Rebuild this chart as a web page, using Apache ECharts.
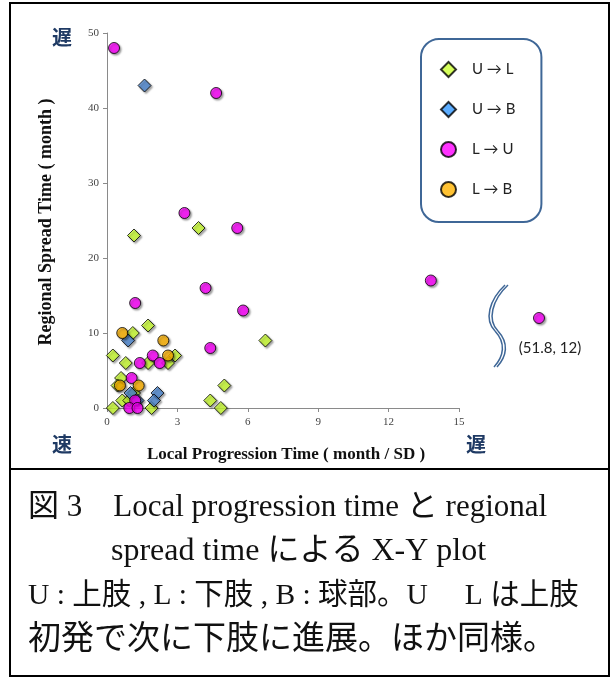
<!DOCTYPE html>
<html><head><meta charset="utf-8">
<script src="https://cdn.jsdelivr.net/npm/echarts@6/dist/echarts.min.js"></script>
<style>html,body{margin:0;padding:0;background:#fff}#c{width:612px;height:678px}</style>
</head><body><div id="c"></div>
<script>
// ---- data ----
const xTicks = [0, 3, 6, 9, 12, 15];
const yTicks = [0, 10, 20, 30, 40, 50];
const legendNames = ['U → L', 'U → B', 'L → U', 'L → B'];
const ulPoints = [[1.15,23],[3.9,24],[1.75,11],[1.1,10],[6.75,9],[0.25,7],[2.9,7],[0.8,6],[1.75,6],[2.6,6],
  [0.6,4],[0.45,3],[5.0,3],[1.15,2],[0.65,1],[0.95,1],[4.4,1],[0.25,0],[1.9,0],[4.85,0]];
const ubPoints = [[1.6,43],[0.9,9],[1.0,2],[2.15,2],[2.0,1],[1.3,1]];
const luPoints = [[0.3,48],[4.65,42],[3.3,26],[5.55,24],[13.8,17],[4.2,16],[1.2,14],[5.8,13],[4.4,8],
  [1.95,7],[1.4,6],[2.25,6],[1.05,4],[1.2,1],[0.95,0],[1.3,0]];
const luOutlier = [[51.8,12]];
const lbPoints = [[0.65,10],[2.4,9],[2.6,7],[0.55,3],[1.35,3]];
const outlierLabel = '(51.8, 12)';
const xTitle = 'Local Progression Time ( month / SD )';
const yTitle = 'Regional Spread Time ( month )';
const captionLines = ['図 3　Local progression time と regional', 'spread time による X-Y plot',
  'U : 上肢 , L : 下肢 , B : 球部。U　 L は上肢', '初発で次に下肢に進展。ほか同様。'];

// ---- chart ----
const chart = echarts.init(document.getElementById('c'), null, {renderer: 'canvas'});
const shadow = {shadowBlur: 2, shadowOffsetX: 1.5, shadowOffsetY: 1.5, shadowColor: 'rgba(0,0,0,0.45)'};
const lblFont = {fontFamily: '"Liberation Serif", serif', fontSize: 11, color: '#444'};
const axisCommon = {
  axisLine: {show: true, lineStyle: {color: '#8a8a8a', width: 1}},
  axisTick: {show: true, inside: false, length: 4, lineStyle: {color: '#8a8a8a'}},
  splitLine: {show: false}
};
function mk(name, data, symbol, size, color, xi) {
  return {type: 'scatter', name, data, symbol, symbolSize: size, xAxisIndex: xi, yAxisIndex: xi,
    clip: false, itemStyle: Object.assign({color, borderColor: '#000', borderWidth: 1}, shadow)};
}
const breakStyle = {fill: null, stroke: '#3f6797', lineWidth: 1.5};
function bz(dx, a) {
  return {type: 'bezierCurve', shape: {x1: a[0] + dx, y1: a[1], cpx1: a[2] + dx, cpy1: a[3], cpx2: a[4] + dx, cpy2: a[5], x2: a[6] + dx, y2: a[7]}, style: breakStyle};
}
const seg1 = [505, 285, 489, 300, 484, 320, 495, 331];
const seg2 = [495, 331, 506, 343, 504, 356, 494, 367];
function capFont(px) { return px + 'px "Liberation Serif", "Noto Sans CJK JP"'; }
const kanjiStyle = {font: 'bold 20px "Noto Sans CJK JP"', fill: '#1f3a64', textAlign: 'center', textVerticalAlign: 'middle'};
chart.setOption({
  animation: false,
  grid: [
    {left: 107, top: 33, width: 352, height: 375},
    {left: 499, top: 33, width: 80, height: 375}
  ],
  xAxis: [
    Object.assign({type: 'value', gridIndex: 0, min: xTicks[0], max: xTicks[xTicks.length-1], interval: 3,
      axisLabel: Object.assign({margin: 9}, lblFont)}, axisCommon),
    {type: 'value', gridIndex: 1, min: 47.8, max: 55.8, show: false}
  ],
  yAxis: [
    Object.assign({type: 'value', gridIndex: 0, min: yTicks[0], max: yTicks[yTicks.length-1], interval: 10,
      axisLabel: Object.assign({margin: 8}, lblFont)}, axisCommon),
    {type: 'value', gridIndex: 1, min: 0, max: 50, show: false}
  ],
  legend: {
    data: [
      {name: legendNames[0], icon: 'diamond'},
      {name: legendNames[1], icon: 'diamond', itemStyle: {color: '#3399ff'}},
      {name: legendNames[2], icon: 'circle'},
      {name: legendNames[3], icon: 'circle'}
    ],
    orient: 'vertical', left: 421, top: 39,
    padding: [22, 26, 24, 19], itemGap: 23, itemWidth: 15, itemHeight: 15,
    borderColor: '#3f6797', borderWidth: 2, borderRadius: 18,
    textStyle: {fontFamily: 'Lato, "Open Sans", sans-serif', fontSize: 15, color: '#222', padding: [0, 0, 0, 11]},
    selectedMode: false
  },
  series: [
    mk(legendNames[0], ulPoints, 'diamond', 13, '#ccff33', 0),
    mk(legendNames[1], ubPoints, 'diamond', 13, '#4f88d2', 0),
    mk(legendNames[2], luPoints, 'circle', 11, '#ff00ff', 0),
    mk(legendNames[3], lbPoints, 'circle', 11, '#ffb300', 0),
    mk(legendNames[2], luOutlier, 'circle', 11, '#ff00ff', 1)
  ],
  graphic: [
    {type: 'rect', shape: {x: 10, y: 3, width: 599, height: 673}, style: {fill: null, stroke: '#000', lineWidth: 2}, z: 10},
    {type: 'line', shape: {x1: 10, y1: 469, x2: 609, y2: 469}, style: {stroke: '#000', lineWidth: 2}, z: 10},
    {type: 'text', x: 46, y: 222, rotation: Math.PI / 2,
      style: {text: yTitle, font: 'bold 18px "Liberation Serif"', fill: '#111', textAlign: 'center', textVerticalAlign: 'middle'}},
    {type: 'text', x: 286, y: 455,
      style: {text: xTitle, font: 'bold 17px "Liberation Serif"', fill: '#111', textAlign: 'center', textVerticalAlign: 'middle'}},
    {type: 'text', x: 62, y: 37, style: Object.assign({text: '遅'}, kanjiStyle)},
    {type: 'text', x: 62, y: 444, style: Object.assign({text: '速'}, kanjiStyle)},
    {type: 'text', x: 476, y: 444, style: Object.assign({text: '遅'}, kanjiStyle)},
    bz(0, seg1), bz(0, seg2), bz(3, seg1), bz(3, seg2),
    {type: 'text', x: 550, y: 348, style: {text: outlierLabel, font: '15px Lato, "Open Sans", sans-serif', fill: '#222', textAlign: 'center', textVerticalAlign: 'middle'}},
    {type: 'text', x: 28, y: 508, style: {text: captionLines[0], font: capFont(31), fill: '#111', textVerticalAlign: 'middle'}},
    {type: 'text', x: 111, y: 552, style: {text: captionLines[1], font: capFont(32), fill: '#111', textVerticalAlign: 'middle'}},
    {type: 'text', x: 28, y: 596, style: {text: captionLines[2], font: capFont(29.5), fill: '#111', textVerticalAlign: 'middle'}},
    {type: 'text', x: 28, y: 640, style: {text: captionLines[3], font: capFont(33), fill: '#111', textVerticalAlign: 'middle'}}
  ]
});
</script></body></html>
